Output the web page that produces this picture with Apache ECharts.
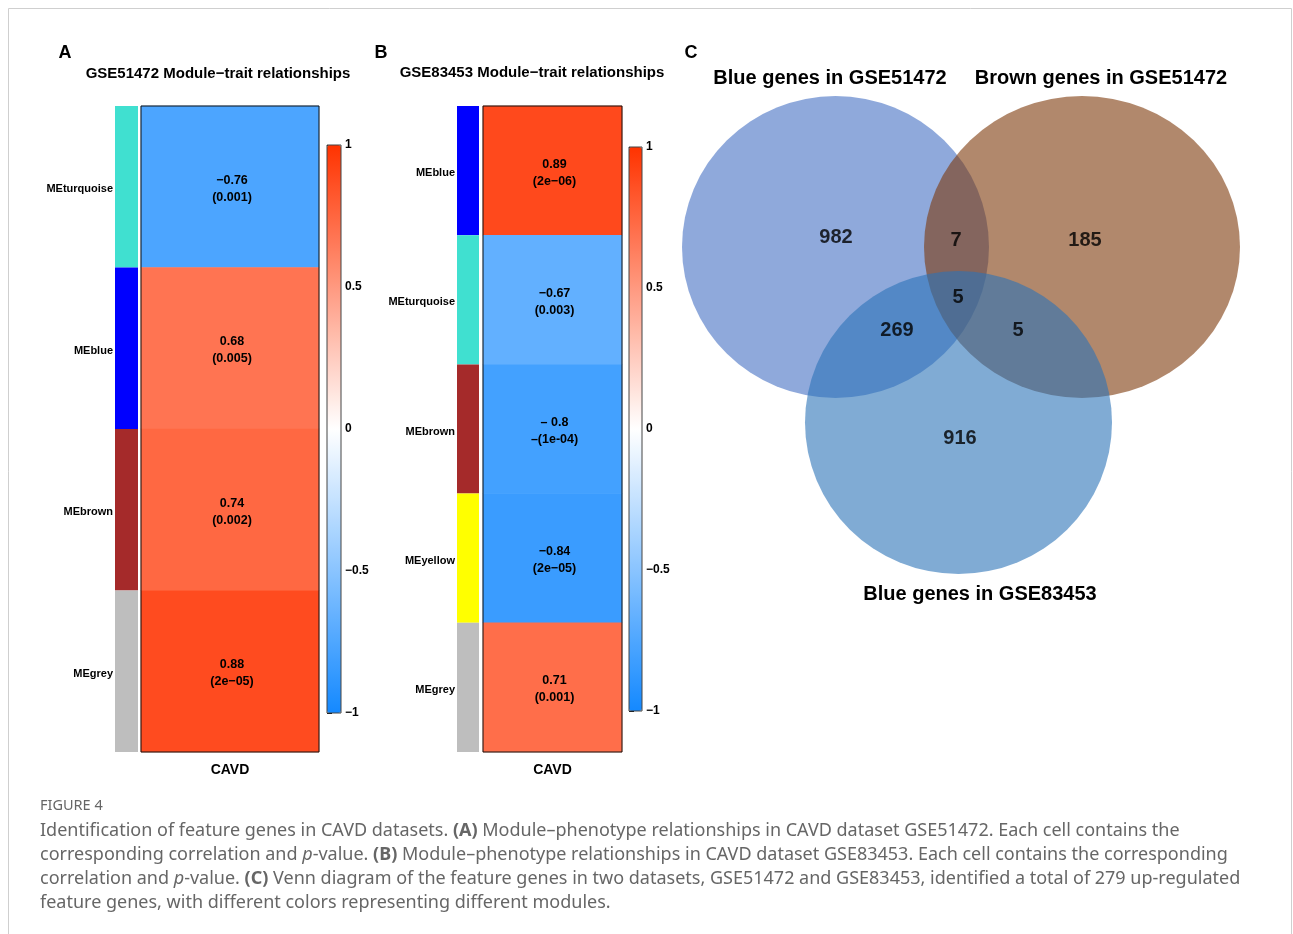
<!DOCTYPE html>
<html><head><meta charset="utf-8">
<script src="https://cdn.jsdelivr.net/npm/echarts@6/dist/echarts.min.js"></script>
<style>html,body{margin:0;padding:0;background:#fff}#c{width:1293px;height:934px}</style>
</head><body><div id="c"></div>
<script>
// ---------- data ----------
const trait = ['CAVD'];

const modulesA = ['MEturquoise', 'MEblue', 'MEbrown', 'MEgrey'];
const moduleColorsA = ['#40E0D0', '#0000FF', '#A52A2A', '#BEBEBE'];
const corrA = [-0.76, 0.68, 0.74, 0.88];
const corrTextA = ['−0.76', '0.68', '0.74', '0.88'];
const pTextA = ['(0.001)', '(0.005)', '(0.002)', '(2e−05)'];

const modulesB = ['MEblue', 'MEturquoise', 'MEbrown', 'MEyellow', 'MEgrey'];
const moduleColorsB = ['#0000FF', '#40E0D0', '#A52A2A', '#FFFF00', '#BEBEBE'];
const corrB = [0.89, -0.67, -0.8, -0.84, 0.71];
const corrTextB = ['0.89', '−0.67', '– 0.8', '−0.84', '0.71'];
const pTextB = ['(2e−06)', '(0.003)', '–(1e-04)', '(2e−05)', '(0.001)'];

const scaleMin = -1, scaleMax = 1, scaleStep = 0.5;

const vennSets = ['Blue genes in GSE51472', 'Brown genes in GSE51472', 'Blue genes in GSE83453'];
const vennRegions = ['A only', 'A∩B', 'B only', 'A∩C', 'A∩B∩C', 'B∩C', 'C only'];
const vennCounts = [982, 7, 185, 269, 5, 5, 916];

// ---------- layout / style ----------
const FONT = '"Liberation Sans", Arial, sans-serif';
const CAP_FONT = '"Noto Sans", sans-serif';
const divColors = ['#1489ff', '#ffffff', '#ff3300'];
const vennCircleLayout = [
  { c: [155.5, 157], s: [307, 302], color: 'rgb(68,112,195)' },
  { c: [402, 157], s: [316, 302], color: 'rgb(125,57,10)' },
  { c: [278.5, 332.5], s: [307, 303], color: 'rgb(43,115,183)' }
];
const vennLabelLayout = [[156, 147], [276, 150], [405, 150], [217, 240], [278, 207], [338, 240], [280, 348]];

const minusFmt = v => (v < 0 ? '−' + Math.abs(v) : String(v));

function panelAxes(gi, modules, trait) {
  return {
    x: [
      { gridIndex: gi, type: 'value', min: 0, max: 1, show: false },
      { gridIndex: gi + 1, type: 'category', data: trait, axisLine: { show: false }, axisTick: { show: false },
        axisLabel: { fontFamily: FONT, fontWeight: 'bold', fontSize: 14, color: '#000', margin: 11 } },
      { gridIndex: gi + 2, type: 'value', show: false }
    ],
    y: [
      { gridIndex: gi, type: 'category', data: modules, inverse: true, axisLine: { show: false }, axisTick: { show: false },
        axisLabel: { margin: 2, formatter: v => '{m|' + v + '}',
          rich: { m: { fontFamily: FONT, fontWeight: 'bold', fontSize: 11, color: '#000', padding: [5, 0, 0, 0] } } } },
      { gridIndex: gi + 1, type: 'category', data: modules, inverse: true, show: false },
      { gridIndex: gi + 2, type: 'value', min: scaleMin, max: scaleMax, interval: scaleStep, position: 'right',
        axisLine: { show: false }, splitLine: { show: false },
        axisTick: { show: true, length: 5, lineStyle: { color: '#000', width: 1 } },
        axisLabel: { fontFamily: FONT, fontWeight: 'bold', fontSize: 12, color: '#000', margin: 4, formatter: minusFmt } }
    ]
  };
}
const axA = panelAxes(0, modulesA, trait);
const axB = panelAxes(3, modulesB, trait);

const titleBold = (text, x, y, size) => ({
  text, left: x, top: y, textAlign: 'center', textVerticalAlign: 'middle', padding: 0,
  textStyle: { fontFamily: FONT, fontWeight: 'bold', fontSize: size, color: '#000' }
});

const capStyle = { fontFamily: CAP_FONT, fontSize: 18, fontWeight: 'normal', color: '#666', lineHeight: 24 };
const caption =
  'Identification of feature genes in CAVD datasets. {b|(A)} Module–phenotype relationships in CAVD dataset GSE51472. Each cell contains the\n' +
  'corresponding correlation and {i|p}-value. {b|(B)} Module–phenotype relationships in CAVD dataset GSE83453. Each cell contains the corresponding\n' +
  'correlation and {i|p}-value. {b|(C)} Venn diagram of the feature genes in two datasets, GSE51472 and GSE83453, identified a total of 279 up-regulated\n' +
  'feature genes, with different colors representing different modules.';

const heatLabel = (ct, pt) => ({
  show: true, fontFamily: FONT, fontWeight: 'bold', fontSize: 12.5, color: '#000', lineHeight: 17, offset: [2, 2],
  formatter: p => ct[p.data[1]] + '\n' + pt[p.data[1]]
});

const option = {
  backgroundColor: '#fff',
  animation: false,
  graphic: [{ type: 'rect', shape: { x: 8.5, y: 8.5, width: 1283, height: 950 }, style: { fill: 'none', stroke: '#cfcfcf', lineWidth: 1 }, silent: true }],
  title: [
    titleBold('A', 65, 53, 18),
    titleBold('GSE51472 Module−trait relationships', 218, 74, 15),
    titleBold('B', 381, 53, 18),
    titleBold('GSE83453 Module−trait relationships', 532, 73, 15),
    titleBold('C', 691, 53, 18),
    titleBold(vennSets[0], 830, 78, 20),
    titleBold(vennSets[1], 1101, 78, 20),
    titleBold(vennSets[2], 980, 594, 20),
    { text: 'FIGURE 4', left: 40, top: 806, textVerticalAlign: 'middle', padding: 0,
      textStyle: { fontFamily: CAP_FONT, fontSize: 14.5, fontWeight: 'normal', color: '#666' } },
    { text: caption, left: 40, top: 819, padding: 0,
      textStyle: Object.assign({}, capStyle, {
        rich: {
          b: Object.assign({}, capStyle, { fontWeight: 'bold' }),
          i: Object.assign({}, capStyle, { fontStyle: 'italic' })
        }
      }) }
  ],
  grid: [
    { left: 115, top: 106, width: 23, height: 646 },
    { left: 141, top: 106, width: 178, height: 646, show: true, borderColor: '#111', borderWidth: 1, backgroundColor: 'transparent', z: 5 },
    { left: 327, top: 145, width: 14, height: 568, show: true, borderColor: '#444', borderWidth: 1, backgroundColor: 'transparent', z: 5 },
    { left: 457, top: 106, width: 22, height: 646 },
    { left: 483, top: 106, width: 139, height: 646, show: true, borderColor: '#111', borderWidth: 1, backgroundColor: 'transparent', z: 5 },
    { left: 629, top: 147, width: 13, height: 564, show: true, borderColor: '#444', borderWidth: 1, backgroundColor: 'transparent', z: 5 },
    { left: 680, top: 90, width: 570, height: 510 }
  ],
  xAxis: axA.x.concat(axB.x, [{ gridIndex: 6, type: 'value', min: 0, max: 570, show: false }]),
  yAxis: axA.y.concat(axB.y, [{ gridIndex: 6, type: 'value', min: 0, max: 510, inverse: true, show: false }]),
  visualMap: [
    { type: 'continuous', seriesIndex: 1, min: scaleMin, max: scaleMax, inRange: { color: divColors },
      left: 327, top: 145, itemWidth: 14, itemHeight: 568, calculable: false, hoverLink: false, padding: 0 },
    { type: 'continuous', seriesIndex: 3, min: scaleMin, max: scaleMax, inRange: { color: divColors },
      left: 629, top: 147, itemWidth: 13, itemHeight: 564, calculable: false, hoverLink: false, padding: 0 }
  ],
  series: [
    { type: 'bar', xAxisIndex: 0, yAxisIndex: 0, barWidth: '100%', silent: true,
      data: moduleColorsA.map(c => ({ value: 1, itemStyle: { color: c } })) },
    { type: 'heatmap', xAxisIndex: 1, yAxisIndex: 1, silent: true,
      data: corrA.map((v, i) => [0, i, v]), label: heatLabel(corrTextA, pTextA) },
    { type: 'bar', xAxisIndex: 3, yAxisIndex: 3, barWidth: '100%', silent: true,
      data: moduleColorsB.map(c => ({ value: 1, itemStyle: { color: c } })) },
    { type: 'heatmap', xAxisIndex: 4, yAxisIndex: 4, silent: true,
      data: corrB.map((v, i) => [0, i, v]), label: heatLabel(corrTextB, pTextB) },
    { type: 'scatter', xAxisIndex: 6, yAxisIndex: 6, silent: true, symbol: 'circle',
      data: vennCircleLayout.map((d, i) => ({ name: vennSets[i], value: d.c, symbolSize: d.s, itemStyle: { color: d.color, opacity: 0.6 } })) },
    { type: 'scatter', xAxisIndex: 6, yAxisIndex: 6, silent: true, symbolSize: 0, z: 5,
      data: vennLabelLayout.map((p, i) => ({ name: vennRegions[i], value: p })),
      label: { show: true, position: 'inside', fontFamily: FONT, fontWeight: 'bold', fontSize: 20, color: '#000',
        formatter: p => String(vennCounts[p.dataIndex]) } }
  ]
};
echarts.init(document.getElementById('c'), null, { renderer: 'canvas' }).setOption(option);
</script>
</body></html>
